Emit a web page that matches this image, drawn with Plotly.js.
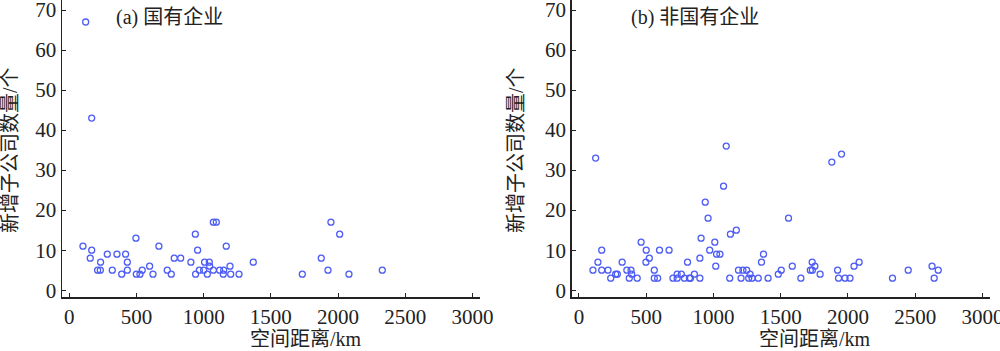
<!DOCTYPE html>
<html>
<head>
<meta charset="utf-8">
<script src="https://cdn.plot.ly/plotly-3.0.1.min.js"></script>
<style>html,body{margin:0;padding:0;background:#fff;}#chart{width:1000px;height:351px;}</style>
</head>
<body>
<div id="chart"></div>
<script>
// (a) 国有企业
const soeDistance = [122,167,102,167,156,211,231,233,283,320,355,390,419,432,432,496,499,526,543,598,623,667,729,759,781,829,905,938,940,955,968,1000,1007,1027,1042,1045,1072,1072,1094,1119,1149,1146,1168,1196,1201,1263,1369,1734,1875,1925,1947,2012,2081,2329];
const soeCount    = [67,43,11,10,8,5,5,7,9,5,9,4,9,7,5,13,4,4,5,6,4,11,5,4,8,8,7,14,4,10,5,5,7,4,7,6,5,17,17,5,5,4,11,6,4,4,7,4,8,5,17,14,4,5];
// (b) 非国有企业
const nsoeDistance = [124,104,141,169,169,216,236,273,285,321,356,374,387,392,433,462,500,498,523,560,560,585,599,670,699,730,730,761,784,807,821,829,858,899,899,908,939,960,972,1010,1017,1023,1048,1075,1095,1121,1126,1170,1186,1205,1219,1247,1272,1262,1287,1333,1357,1372,1406,1482,1504,1558,1586,1650,1720,1735,1734,1754,1793,1880,1923,1930,1952,1978,2015,2045,2083,2331,2448,2625,2641,2671];
const nsoeCount    = [33,5,7,10,5,5,3,4,4,7,5,3,5,4,3,12,10,7,8,5,3,3,10,10,3,4,3,4,3,7,3,3,4,3,8,13,22,18,10,12,6,9,9,26,36,3,14,15,5,3,5,5,4,3,3,3,7,9,3,4,5,18,6,3,5,5,7,6,4,32,5,3,34,3,3,6,7,3,5,6,3,5];

const yTicks = [0,10,20,30,40,50,60,70];
const xTicks = [0,500,1000,1500,2000,2500,3000];
const xTitle = '空间距离/km';
const yTitle = '新增子公司数量/个';
const panelA = '(a) 国有企业';
const panelB = '(b) 非国有企业';

const fontFam = '"Liberation Serif","Times New Roman","Noto Sans CJK SC",serif';
const markerStyle = {symbol:'circle-open', size:6, color:'#4d5cf5', line:{width:1.3, color:'#4d5cf5'}};

const traces = [
  {x: soeDistance, y: soeCount, type:'scatter', mode:'markers', marker: markerStyle, xaxis:'x', yaxis:'y', hoverinfo:'x+y', cliponaxis:false},
  {x: nsoeDistance, y: nsoeCount, type:'scatter', mode:'markers', marker: markerStyle, xaxis:'x2', yaxis:'y2', hoverinfo:'x+y', cliponaxis:false}
];

function xa(domain, anchor){
  return {domain: domain, anchor: anchor, range:[-54,3056], tickvals: xTicks, ticktext: xTicks.map(String),
    ticks:'inside', ticklen:4, tickwidth:1, tickcolor:'#222', showline:true, linecolor:'#222', linewidth:1.5,
    showgrid:false, zeroline:false, ticklabeloverflow:'allow', automargin:false,
    tickfont:{family:fontFam, size:21, color:'#222'}};
}
function ya(anchor){
  return {domain:[0,1], anchor: anchor, range:[-1.7,72.5], tickvals: yTicks, ticktext: yTicks.map(String),
    ticks:'inside', ticklen:4, tickwidth:1, tickcolor:'#222', showline:true, linecolor:'#222', linewidth:1.5,
    showgrid:false, zeroline:false, ticklabeloverflow:'allow', automargin:false,
    tickfont:{family:fontFam, size:21, color:'#222'}};
}

const layout = {
  width:1000, height:351,
  margin:{l:0, r:0, t:0, b:54, pad:0},
  paper_bgcolor:'#fff', plot_bgcolor:'#fff',
  showlegend:false,
  xaxis: xa([0.062,0.48],'y'),
  yaxis: ya('x'),
  xaxis2: xa([0.5717,0.99],'y2'),
  yaxis2: ya('x2'),
  annotations:[
    {text: panelA, xref:'paper', yref:'paper', x:114/1000, y:1-18/297, xanchor:'left', yanchor:'middle', showarrow:false, font:{family:fontFam, size:20, color:'#222'}},
    {text: panelB, xref:'paper', yref:'paper', x:629/1000, y:1-18/297, xanchor:'left', yanchor:'middle', showarrow:false, font:{family:fontFam, size:20, color:'#222'}},
    {text: xTitle, xref:'paper', yref:'paper', x:306/1000, y:-(339-297)/297, xanchor:'center', yanchor:'middle', showarrow:false, font:{family:fontFam, size:20, color:'#222'}},
    {text: xTitle, xref:'paper', yref:'paper', x:815/1000, y:-(339-297)/297, xanchor:'center', yanchor:'middle', showarrow:false, font:{family:fontFam, size:20, color:'#222'}},
    {text: yTitle, xref:'paper', yref:'paper', x:10/1000, y:1-150/297, xanchor:'center', yanchor:'middle', textangle:-90, showarrow:false, font:{family:fontFam, size:20, color:'#222'}},
    {text: yTitle, xref:'paper', yref:'paper', x:516/1000, y:1-150/297, xanchor:'center', yanchor:'middle', textangle:-90, showarrow:false, font:{family:fontFam, size:20, color:'#222'}}
  ]
};

Plotly.newPlot('chart', traces, layout, {displayModeBar:false, staticPlot:true});
</script>
</body>
</html>
